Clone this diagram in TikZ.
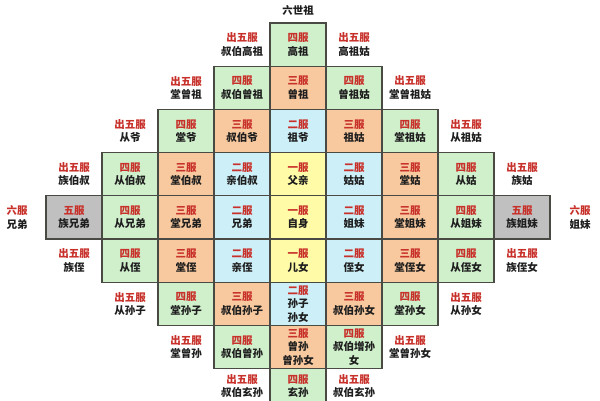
\documentclass[tikz,border=0pt]{standalone}
\usepackage{fontspec}
\newfontfamily\cjk{Noto Sans CJK SC}
\definecolor{fured}{HTML}{C8302A}
\definecolor{txt}{HTML}{1E1E1E}
\definecolor{linegray}{HTML}{4A4A44}
\definecolor{cyel}{HTML}{FFFBA6}
\definecolor{cblu}{HTML}{CDEFF8}
\definecolor{cora}{HTML}{F8C99F}
\definecolor{cgrn}{HTML}{D0F0CC}
\definecolor{cgry}{HTML}{C0C0C0}
\newcommand\fu[1]{\textcolor{fured}{#1}}
\tikzset{
  lbl/.style={align=center, inner sep=0pt, text=txt,
    font=\cjk\bfseries\fontsize{10.5}{13.5}\selectfont},
  cell/.style={lbl, draw=linegray, line width=1.1pt,
    minimum width=56pt, minimum height=43.2pt},
  yel/.style={cell, fill=cyel},
  blu/.style={cell, fill=cblu},
  ora/.style={cell, fill=cora},
  grn/.style={cell, fill=cgrn},
  gry/.style={cell, fill=cgry},
  outl/.style={lbl}
}
\begin{document}
\begin{tikzpicture}[x=1pt,y=-1pt]
\useasboundingbox (0,0) rectangle (600,400);
\fill[white] (0,0) rectangle (600,400);
% top label
\node[outl] (top) at (298,10) {六世祖};
% row 0
\node[outl] (o03) at (242,44.6) {\fu{出五服}\\叔伯高祖};
\node[grn]  (c04) at (298,44.6) {\fu{四服}\\高祖};
\node[outl] (o05) at (354,44.6) {\fu{出五服}\\高祖姑};
% row 1
\node[outl] (o12) at (186,87.8) {\fu{出五服}\\堂曾祖};
\node[grn]  (c13) at (242,87.8) {\fu{四服}\\叔伯曾祖};
\node[ora]  (c14) at (298,87.8) {\fu{三服}\\曾祖};
\node[grn]  (c15) at (354,87.8) {\fu{四服}\\曾祖姑};
\node[outl] (o16) at (410,87.8) {\fu{出五服}\\堂曾祖姑};
% row 2
\node[outl] (o21) at (130,131) {\fu{出五服}\\从爷};
\node[grn]  (c22) at (186,131) {\fu{四服}\\堂爷};
\node[ora]  (c23) at (242,131) {\fu{三服}\\叔伯爷};
\node[blu]  (c24) at (298,131) {\fu{二服}\\祖爷};
\node[ora]  (c25) at (354,131) {\fu{三服}\\祖姑};
\node[grn]  (c26) at (410,131) {\fu{四服}\\堂祖姑};
\node[outl] (o27) at (466,131) {\fu{出五服}\\从祖姑};
% row 3
\node[outl] (o30) at (74,174.2) {\fu{出五服}\\族伯叔};
\node[grn]  (c31) at (130,174.2) {\fu{四服}\\从伯叔};
\node[ora]  (c32) at (186,174.2) {\fu{三服}\\堂伯叔};
\node[blu]  (c33) at (242,174.2) {\fu{二服}\\亲伯叔};
\node[yel]  (c34) at (298,174.2) {\fu{一服}\\父亲};
\node[blu]  (c35) at (354,174.2) {\fu{二服}\\姑姑};
\node[ora]  (c36) at (410,174.2) {\fu{三服}\\堂姑};
\node[grn]  (c37) at (466,174.2) {\fu{四服}\\从姑};
\node[outl] (o38) at (522,174.2) {\fu{出五服}\\族姑};
% row 4
\node[outl] (oL)  at (17,217.4) {\fu{六服}\\兄弟};
\node[gry]  (c40) at (74,217.4) {\fu{五服}\\族兄弟};
\node[grn]  (c41) at (130,217.4) {\fu{四服}\\从兄弟};
\node[ora]  (c42) at (186,217.4) {\fu{三服}\\堂兄弟};
\node[blu]  (c43) at (242,217.4) {\fu{二服}\\兄弟};
\node[yel]  (c44) at (298,217.4) {\fu{一服}\\自身};
\node[blu]  (c45) at (354,217.4) {\fu{二服}\\姐妹};
\node[ora]  (c46) at (410,217.4) {\fu{三服}\\堂姐妹};
\node[grn]  (c47) at (466,217.4) {\fu{四服}\\从姐妹};
\node[gry]  (c48) at (522,217.4) {\fu{五服}\\族姐妹};
\node[outl] (oR)  at (580,217.4) {\fu{六服}\\姐妹};
% row 5
\node[outl] (o50) at (74,260.6) {\fu{出五服}\\族侄};
\node[grn]  (c51) at (130,260.6) {\fu{四服}\\从侄};
\node[ora]  (c52) at (186,260.6) {\fu{三服}\\堂侄};
\node[blu]  (c53) at (242,260.6) {\fu{二服}\\亲侄};
\node[yel]  (c54) at (298,260.6) {\fu{一服}\\儿女};
\node[blu]  (c55) at (354,260.6) {\fu{二服}\\侄女};
\node[ora]  (c56) at (410,260.6) {\fu{三服}\\堂侄女};
\node[grn]  (c57) at (466,260.6) {\fu{四服}\\从侄女};
\node[outl] (o58) at (522,260.6) {\fu{出五服}\\族侄女};
% row 6
\node[outl] (o61) at (130,303.8) {\fu{出五服}\\从孙子};
\node[grn]  (c62) at (186,303.8) {\fu{四服}\\堂孙子};
\node[ora]  (c63) at (242,303.8) {\fu{三服}\\叔伯孙子};
\node[blu]  (c64) at (298,303.8) {\fu{二服}\\孙子\\孙女};
\node[ora]  (c65) at (354,303.8) {\fu{三服}\\叔伯孙女};
\node[grn]  (c66) at (410,303.8) {\fu{四服}\\堂孙女};
\node[outl] (o67) at (466,303.8) {\fu{出五服}\\从孙女};
% row 7
\node[outl] (o72) at (186,347) {\fu{出五服}\\堂曾孙};
\node[grn]  (c73) at (242,347) {\fu{四服}\\叔伯曾孙};
\node[ora]  (c74) at (298,347) {\fu{三服}\\曾孙\\曾孙女};
\node[grn]  (c75) at (354,347) {\fu{四服}\\叔伯增孙\\女};
\node[outl] (o76) at (410,347) {\fu{出五服}\\堂曾孙女};
% row 8
\node[outl] (o83) at (242,386) {\fu{出五服}\\叔伯玄孙};
\node[grn]  (c84) at (298,390.2) {};
\node[lbl]  (t84) at (298,386) {\fu{四服}\\玄孙};
\node[outl] (o85) at (354,386) {\fu{出五服}\\叔伯玄孙};
\end{tikzpicture}
\end{document}
